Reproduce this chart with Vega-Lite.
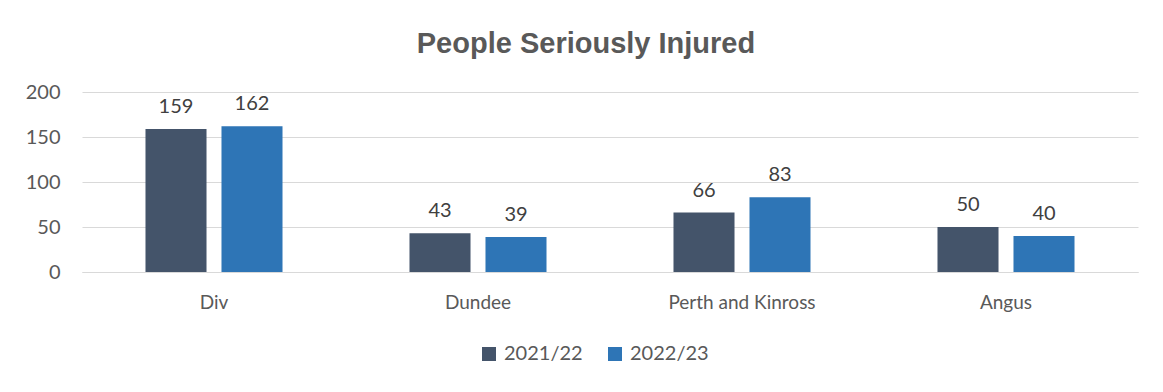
{
  "$schema": "https://vega.github.io/schema/vega-lite/v6.json",
  "width": 1056,
  "height": 180,
  "autosize": {"type": "none"},
  "padding": {"left": 82, "top": 92, "right": 25, "bottom": 120},
  "background": "white",
  "title": {
    "text": "People Seriously Injured",
    "font": "Liberation Sans",
    "fontSize": 29,
    "fontWeight": "bold",
    "color": "#595959",
    "anchor": "middle",
    "baseline": "alphabetic",
    "offset": 0,
    "dx": -24
  },
  "data": {
    "values": [
      {"area": "Div", "year": "2021/22", "value": 159},
      {"area": "Div", "year": "2022/23", "value": 162},
      {"area": "Dundee", "year": "2021/22", "value": 43},
      {"area": "Dundee", "year": "2022/23", "value": 39},
      {"area": "Perth and Kinross", "year": "2021/22", "value": 66},
      {"area": "Perth and Kinross", "year": "2022/23", "value": 83},
      {"area": "Angus", "year": "2021/22", "value": 50},
      {"area": "Angus", "year": "2022/23", "value": 40}
    ]
  },
  "encoding": {
    "x": {
      "field": "area",
      "type": "nominal",
      "sort": null,
      "title": null,
      "scale": {"paddingInner": 0.481, "paddingOuter": 0.2405},
      "axis": {
        "labelAngle": 0,
        "ticks": false,
        "domainColor": "#D9D9D9",
        "labelFont": "Lato",
        "labelFontSize": 19,
        "labelColor": "#595959",
        "labelPadding": 21
      }
    },
    "xOffset": {
      "field": "year",
      "type": "nominal",
      "scale": {"paddingInner": 0.197, "paddingOuter": 0}
    },
    "y": {
      "field": "value",
      "type": "quantitative",
      "title": null,
      "scale": {"domain": [0, 200]},
      "axis": {
        "values": [0, 50, 100, 150, 200],
        "ticks": false,
        "domain": false,
        "gridColor": "#D9D9D9",
        "labelFont": "Lato",
        "labelFontSize": 20,
        "labelColor": "#595959",
        "labelPadding": 22
      }
    },
    "color": {
      "field": "year",
      "type": "nominal",
      "title": null,
      "scale": {"domain": ["2021/22", "2022/23"], "range": ["#44546A", "#2E75B6"]},
      "legend": {
        "orient": "none",
        "direction": "horizontal",
        "legendX": 397,
        "legendY": 252,
        "symbolType": "square",
        "symbolSize": 196,
        "symbolStrokeWidth": 0,
        "labelFont": "Lato",
        "labelFontSize": 20,
        "labelColor": "#595959",
        "labelOffset": 5,
        "columnPadding": 22
      }
    }
  },
  "layer": [
    {"mark": {"type": "bar"}},
    {
      "mark": {
        "type": "text",
        "baseline": "alphabetic",
        "dy": -16,
        "font": "Lato",
        "fontSize": 20,
        "color": "#404040"
      },
      "encoding": {"text": {"field": "value", "type": "quantitative"}, "color": {"value": "#404040"}}
    }
  ],
  "config": {"view": {"stroke": null}}
}
